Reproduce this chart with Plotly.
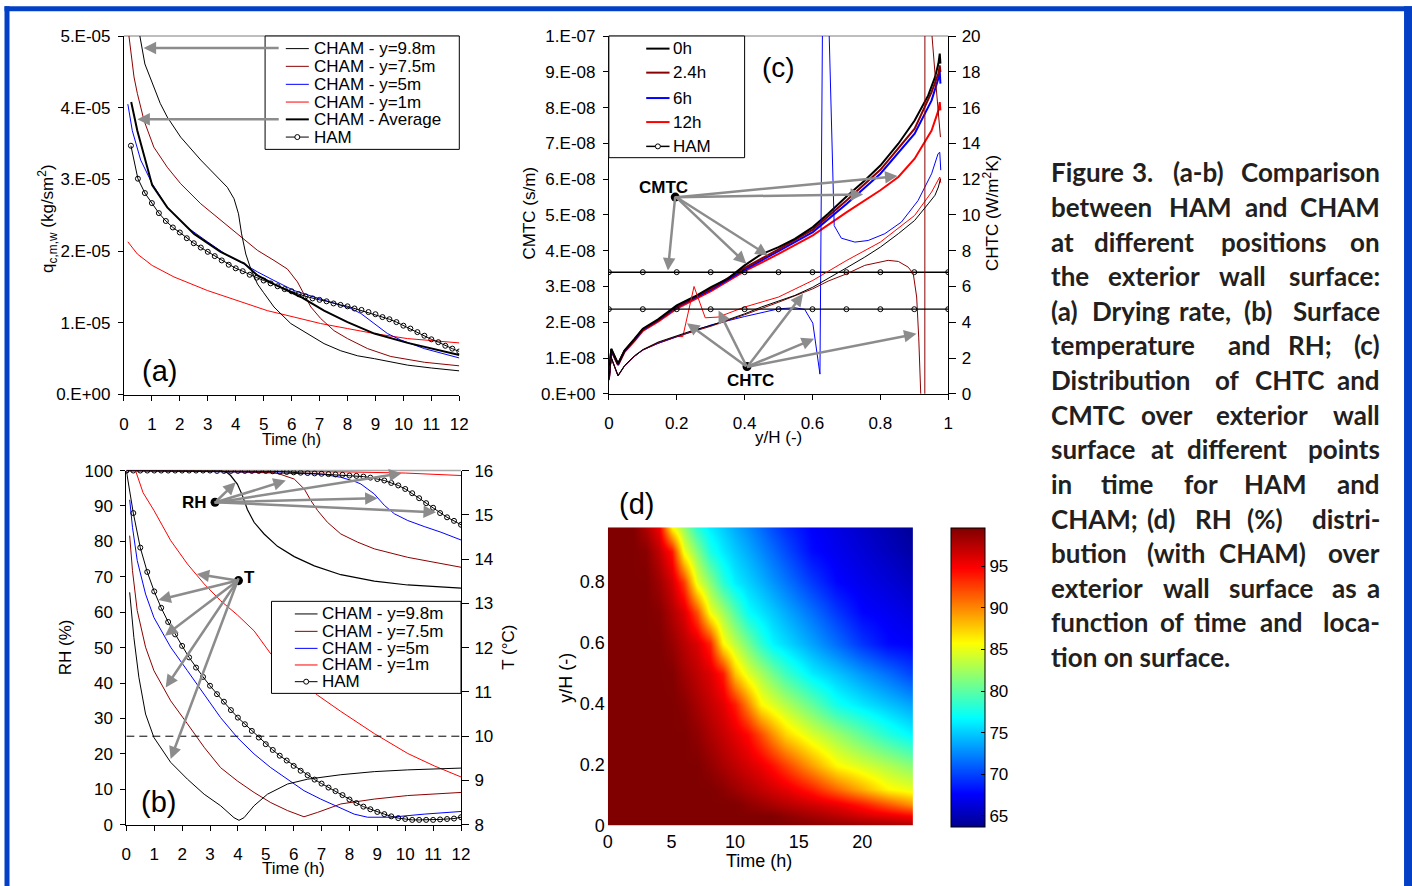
import plotly.graph_objects as go

W, H = 1412, 886
# Positions below are written in reference-picture pixels; PX/PY convert them to page pixels,
# correcting for the small fixed offset/scale measured between the page and the photographed picture.
AX, SX, AY, SY = 4.5, 0.989, 8.7, 0.978
FONT = "Arial, 'Liberation Sans', Helvetica, sans-serif"
CAP_FONT = "Lato, 'Open Sans', sans-serif"
DARKRED = '#8b0000'
GRAY = '#8c8c8c'
FRAME = '#0340c6'


def PX(x):
    return (x - AX) / SX


def PY(y):
    return (y - AY) / SY


def X(px):
    return PX(px) / W


def Y(py):
    return 1 - PY(py) / H


# ---------------- (a) drying rate, values in 1e-5 kg/sm2 ----------------
A_SCALE = 1e-5
a_t_y98 = [0.45, 0.57, 0.75, 1.07, 1.3, 1.55, 2.03, 2.75, 3.46, 3.7, 3.94, 4.1, 4.21, 4.36, 4.54, 4.78, 5.0, 5.37,
           5.97, 6.57, 7.16, 7.76, 8.36, 8.96, 10.15, 11.0, 12.0]
a_q_y98 = [5.7, 5.0, 4.61, 4.29, 4.06, 3.87, 3.59, 3.27, 2.99, 2.89, 2.73, 2.52, 2.24, 1.96, 1.75, 1.54, 1.42, 1.22,
           0.99, 0.85, 0.71, 0.61, 0.54, 0.50, 0.41, 0.37, 0.33]
a_t_y75 = [0.13, 0.18, 0.36, 0.48, 0.72, 1.07, 1.55, 2.03, 2.75, 3.46, 4.18, 4.78, 5.37, 5.85, 6.21, 6.45, 6.69, 7.04,
           7.52, 8.0, 8.72, 9.55, 10.75, 12.0]
a_q_y75 = [5.5, 5.0, 4.43, 4.2, 3.82, 3.45, 3.17, 2.94, 2.66, 2.43, 2.2, 2.01, 1.87, 1.75, 1.57, 1.40, 1.22, 1.06,
           0.89, 0.78, 0.64, 0.53, 0.45, 0.40]
a_t_y5 = [0.14, 0.3, 0.6, 1.01, 1.55, 2.27, 2.99, 3.7, 4.3, 4.78, 5.37, 6.09, 6.81, 7.52, 8.12, 8.48, 8.96, 9.43,
          9.91, 10.75, 12.0]
a_q_y5 = [4.05, 3.68, 3.27, 2.94, 2.61, 2.33, 2.13, 1.94, 1.82, 1.71, 1.59, 1.45, 1.36, 1.27, 1.2, 1.13, 0.99, 0.85,
          0.76, 0.64, 0.51]
a_t_y1 = [0.14, 0.48, 1.01, 1.79, 2.99, 4.18, 5.13, 6.09, 7.04, 8.0, 8.96, 10.15, 12.0]
a_q_y1 = [2.13, 1.96, 1.8, 1.64, 1.45, 1.29, 1.17, 1.08, 0.99, 0.92, 0.85, 0.78, 0.72]
a_t_avg = [0.26, 0.48, 1.01, 1.55, 2.51, 3.46, 4.18, 4.3, 4.78, 5.37, 6.33, 7.16, 8.0, 8.96, 10.15, 12.0]
a_q_avg = [4.08, 3.68, 2.92, 2.61, 2.24, 1.99, 1.85, 1.83, 1.66, 1.54, 1.36, 1.17, 1.01, 0.85, 0.72, 0.55]
a_t_ham = [0.25, 0.5, 0.75, 1.0, 1.25, 1.5, 1.75, 2.0, 2.25, 2.5, 2.75, 3.0, 3.25, 3.5, 3.75, 4.0, 4.25, 4.5, 4.75,
           5.0, 5.25, 5.5, 5.75, 6.0, 6.25, 6.5, 6.75, 7.0, 7.25, 7.5, 7.75, 8.0, 8.25, 8.5, 8.75, 9.0, 9.25, 9.5,
           9.75, 10.0, 10.25, 10.5, 10.75, 11.0, 11.25, 11.5, 11.75, 12.0]
a_q_ham = [3.47, 3.01, 2.81, 2.67, 2.53, 2.42, 2.33, 2.26, 2.18, 2.11, 2.05, 1.99, 1.93, 1.87, 1.81, 1.76, 1.72, 1.67,
           1.63, 1.59, 1.55, 1.51, 1.47, 1.44, 1.40, 1.37, 1.34, 1.32, 1.30, 1.27, 1.25, 1.23, 1.20, 1.18, 1.15, 1.12,
           1.08, 1.05, 1.01, 0.96, 0.92, 0.87, 0.82, 0.77, 0.73, 0.68, 0.64, 0.60]
a_yticks = [0, 1e-5, 2e-5, 3e-5, 4e-5, 5e-5]
a_yticktext = ["0.E+00", "1.E-05", "2.E-05", "3.E-05", "4.E-05", "5.E-05"]

# ---------------- (b) RH (%) and T (C) ----------------
b_t_rh98 = [0, 3.38, 3.6, 3.74, 3.98, 4.16, 4.34, 4.58, 4.94, 5.42, 6.02, 6.74, 7.69, 8.89, 10.09, 12]
b_rh98 = [100, 100, 99.5, 98.6, 96.2, 93, 89, 85.4, 82.1, 78.6, 75.7, 73.1, 70.6, 68.8, 67.7, 66.8]
b_t_rh75 = [0, 3, 5.3, 5.54, 6.02, 6.38, 6.62, 6.86, 7.21, 7.69, 8.29, 8.89, 10.09, 11.28, 12]
b_rh75 = [100, 99.8, 99.4, 98.9, 97.6, 94.8, 91.5, 88.7, 85.4, 82.1, 79.8, 77.9, 75.5, 73.8, 72.7]
b_t_rh5 = [0, 4, 7, 7.69, 8.17, 8.41, 8.89, 9.25, 9.61, 10.09, 10.68, 11.28, 12]
b_rh5 = [100, 99.6, 99.0, 98.1, 97.0, 96.2, 93.4, 90.2, 87.8, 85.9, 84.2, 82.6, 80.4]
b_t_rh1 = [0, 4, 8, 10, 12]
b_rh1 = [100, 99.9, 99.6, 99.3, 98.6]
b_t_T98 = [0.12, 0.27, 0.45, 0.69, 0.99, 1.59, 2.19, 2.79, 3.38, 3.86, 4.04, 4.22, 4.58, 5.06, 5.78, 6.5, 7.69, 8.89,
           10.09, 12]
b_T98 = [13.25, 12.23, 11.33, 10.5, 9.97, 9.41, 9.03, 8.69, 8.43, 8.16, 8.1, 8.16, 8.43, 8.69, 8.92, 9.03, 9.13, 9.2,
         9.24, 9.28]
b_t_T75 = [0.12, 0.22, 0.39, 0.69, 0.99, 1.59, 2.19, 2.79, 3.38, 3.98, 4.58, 5.18, 5.78, 6.37, 6.86, 7.69, 8.89,
           10.09, 12]
b_T75 = [14.53, 13.74, 12.84, 12.01, 11.48, 10.8, 10.28, 9.75, 9.29, 8.99, 8.73, 8.5, 8.32, 8.18, 8.28, 8.47, 8.58,
         8.66, 8.73]
b_t_T5 = [0.12, 0.22, 0.39, 0.69, 0.99, 1.59, 2.19, 2.79, 3.38, 3.98, 4.58, 5.18, 5.78, 6.37, 6.97, 7.6, 8.17, 8.65,
          9.49, 10.68, 12]
b_T5 = [15.34, 14.72, 13.97, 13.21, 12.68, 12.01, 11.48, 10.95, 10.42, 9.97, 9.6, 9.29, 9.03, 8.77, 8.58, 8.4, 8.24,
        8.17, 8.17, 8.24, 8.3]
b_t_T1 = [0.33, 0.6, 0.99, 1.59, 2.19, 2.79, 3.38, 3.98, 4.58, 5.18, 5.9, 6.85, 7.69, 8.89, 10.09, 11.04, 12]
b_T1 = [16.0, 15.5, 15.1, 14.42, 13.89, 13.44, 13.06, 12.74, 12.38, 11.86, 11.45, 10.93, 10.56, 10.06, 9.61, 9.33,
        9.08]
b_t_ham = [0.0, 0.25, 0.5, 0.75, 1.0, 1.25, 1.5, 1.75, 2.0, 2.25, 2.5, 2.75, 3.0, 3.25, 3.5, 3.75, 4.0, 4.25, 4.5,
           4.75, 5.0, 5.25, 5.5, 5.75, 6.0, 6.25, 6.5, 6.75, 7.0, 7.25, 7.5, 7.75, 8.0, 8.25, 8.5, 8.75, 9.0, 9.25,
           9.5, 9.75, 10.0, 10.25, 10.5, 10.75, 11.0, 11.25, 11.5, 11.75, 12.0]
b_rh_ham = [100.0, 100.0, 100.0, 100.0, 100.0, 100.0, 100.0, 100.0, 100.0, 100.0, 100.0, 100.0, 100.0,
            99.9, 99.9, 99.9, 99.9, 99.9, 99.9, 99.9, 99.9,
            99.8, 99.7, 99.6, 99.5, 99.4, 99.3, 99.2, 99.1, 99.0, 98.9, 98.8, 98.6, 98.5, 98.3, 98.0, 97.6, 97.2,
            96.5, 95.8, 94.8, 93.6, 92.2, 90.8, 89.5, 88.0, 86.8, 85.8, 84.7]
b_T_ham = [16.0, 15.04, 14.26, 13.71, 13.27, 12.9, 12.58, 12.3, 12.04, 11.78, 11.55, 11.34, 11.14, 10.95, 10.78,
           10.59, 10.42, 10.27, 10.12, 9.97, 9.82, 9.69, 9.56, 9.45, 9.33, 9.22, 9.12, 9.02, 8.93, 8.84, 8.76, 8.67,
           8.57, 8.49, 8.41, 8.35, 8.29, 8.24, 8.19, 8.15, 8.13, 8.11, 8.11, 8.11, 8.11, 8.12, 8.13, 8.14, 8.17]
b_T_ref = 10.0

# ---------------- (c) CMTC (1e-8 s/m) and CHTC (W/m2K) ----------------
C_SCALE = 1e-8
c_yh_a = [0, 0.007, 0.027, 0.046, 0.076, 0.1, 0.145, 0.2, 0.253, 0.301, 0.351, 0.4, 0.449, 0.5, 0.548, 0.601, 0.646,
          0.701, 0.754, 0.8, 0.853, 0.901, 0.941, 0.961, 0.971, 0.975, 0.977]
c_cmtc_0h = [0.42, 1.26, 0.84, 1.21, 1.54, 1.82, 2.08, 2.47, 2.72, 2.98, 3.22, 3.59, 3.9, 4.1, 4.33, 4.66, 5.03,
             5.52, 5.96, 6.38, 6.99, 7.64, 8.34, 8.85, 9.23, 9.51, 9.23]
c_chtc_0h = [0.84, 2.05, 1.03, 1.58, 2.14, 2.47, 2.89, 3.26, 3.58, 3.82, 4.14, 4.47, 4.85, 5.18, 5.5, 5.96, 6.43,
             7.05, 7.64, 8.2, 8.95, 9.69, 10.62, 11.1, 11.56, 11.9, 12.02]
c_yh_b = [0, 0.007, 0.027, 0.046, 0.076, 0.1, 0.145, 0.2, 0.301, 0.4, 0.5, 0.601, 0.701, 0.8, 0.901, 0.951, 0.971,
          0.975, 0.977]
c_cmtc_24h = [0.42, 1.24, 0.83, 1.2, 1.52, 1.8, 2.06, 2.44, 2.94, 3.52, 4.04, 4.59, 5.41, 6.26, 7.41, 8.43, 8.95,
              9.18, 8.99]
c_cmtc_6h = [0.40, 1.22, 0.82, 1.19, 1.51, 1.79, 2.05, 2.42, 2.91, 3.47, 3.99, 4.52, 5.31, 6.15, 7.27, 8.2, 8.81,
             8.99, 8.67]
c_yh_c = [0, 0.007, 0.027, 0.046, 0.076, 0.1, 0.145, 0.2, 0.301, 0.4, 0.5, 0.601, 0.701, 0.8, 0.853, 0.901, 0.951,
          0.971, 0.975, 0.977]
c_cmtc_12h = [0.38, 1.2, 0.8, 1.17, 1.48, 1.76, 2.02, 2.38, 2.87, 3.43, 3.91, 4.43, 5.08, 5.69, 6.06, 6.57, 7.36,
              7.92, 8.15, 7.92]
c_yh_d = [0, 0.007, 0.027, 0.046, 0.076, 0.1, 0.145, 0.2, 0.301, 0.4, 0.5, 0.601, 0.646, 0.701, 0.754, 0.8, 0.823,
          0.853, 0.882, 0.897, 0.907, 0.913, 0.919, 0.925, 0.9305, 0.9315, 0.951, 0.961, 0.971, 0.977]
c_chtc_24h = [0.84, 2.0, 1.0, 1.55, 2.1, 2.45, 2.85, 3.2, 3.78, 4.42, 5.12, 5.87, 6.3, 6.71, 7.18, 7.36, 7.46, 7.40,
              7.08, 6.71, 5.41, 3.17, 0.0, -40, -40, 40, 20.3, 17.9, 15.66, 14.35]
c_yh_e = [0, 0.007, 0.027, 0.046, 0.076, 0.1, 0.145, 0.2, 0.301, 0.4, 0.5, 0.548, 0.577, 0.601, 0.612, 0.622, 0.630,
          0.640, 0.6465, 0.664, 0.685, 0.725, 0.764, 0.813, 0.862, 0.911, 0.951, 0.97, 0.975, 0.978]
c_chtc_6h = [0.84, 2.0, 1.0, 1.55, 2.1, 2.45, 2.82, 3.18, 3.85, 4.32, 4.75, 4.81, 4.72, 3.95, 2.5, 1.1, 22, 22, 22,
             9.4, 8.7, 8.48, 8.57, 8.95, 9.6, 10.8, 12.3, 13.42, 13.5, 12.5]
c_yh_f = [0, 0.007, 0.027, 0.046, 0.076, 0.1, 0.145, 0.2, 0.218, 0.251, 0.284, 0.322, 0.4, 0.5, 0.601, 0.701, 0.8,
          0.901, 0.951, 0.975, 0.978]
c_chtc_12h = [0.84, 2.0, 1.0, 1.55, 2.1, 2.45, 2.82, 3.2, 3.2, 6.0, 4.25, 4.29, 4.85, 5.41, 6.34, 7.46, 8.48, 9.97,
              11.28, 12.12, 11.8]
c_yh_ham = [0, 0.1, 0.2, 0.3, 0.4, 0.5, 0.6, 0.7, 0.8, 0.9, 1.0]
c_cmtc_ham = [3.4, 3.4, 3.4, 3.4, 3.4, 3.4, 3.4, 3.4, 3.4, 3.4, 3.4]
c_chtc_ham = [4.73, 4.73, 4.73, 4.73, 4.73, 4.73, 4.73, 4.73, 4.73, 4.73, 4.73]
c_yticks = [0, 1e-8, 2e-8, 3e-8, 4e-8, 5e-8, 6e-8, 7e-8, 8e-8, 9e-8, 1e-7]
c_yticktext = ["0.E+00", "1.E-08", "2.E-08", "3.E-08", "4.E-08", "5.E-08", "6.E-08", "7.E-08", "8.E-08", "9.E-08",
               "1.E-07"]

# ---------------- (d) RH (%) over time and height ----------------
d_time = [0, 2, 3, 4, 5, 6, 7, 8, 9, 10, 11, 12, 13, 14, 16, 18, 20, 22, 24]
d_yh = [0, 0.03, 0.07, 0.12, 0.2, 0.3, 0.4, 0.5, 0.6, 0.7, 0.8, 0.9, 0.98]
d_rh = [
    [99.6, 99.6, 99.6, 99.6, 99.6, 99.6, 99.6, 99.6, 99.6, 99.6, 99.6, 99.6, 99.6, 99.6, 99.3, 99.0, 98.7, 98.4, 98.0],
    [99.6, 99.6, 99.6, 99.6, 99.6, 99.6, 99.6, 99.6, 99.6, 99.6, 99.6, 99.6, 99.6, 99.1, 98.3, 97.5, 96.6, 95.8, 95.0],
    [99.6, 99.6, 99.6, 99.6, 99.6, 99.6, 99.6, 99.6, 99.6, 99.6, 99.0, 98.5, 98.0, 97.5, 96.5, 95.5, 93.9, 91.7, 89.5],
    [99.6, 99.6, 99.6, 99.6, 99.6, 99.6, 99.6, 99.6, 99.2, 98.5, 97.8, 97.1, 96.4, 95.7, 93.7, 91.1, 88.6, 86.0, 85.0],
    [99.6, 99.6, 99.6, 99.6, 99.6, 99.6, 99.6, 98.9, 98.0, 97.2, 96.3, 95.4, 94.2, 92.5, 89.1, 85.9, 84.4, 83.0, 81.5],
    [99.6, 99.6, 99.6, 99.6, 99.6, 99.6, 99.0, 97.9, 96.9, 95.8, 94.5, 92.1, 89.6, 87.2, 84.4, 82.3, 80.2, 78.1, 76.5],
    [99.6, 99.6, 99.6, 99.6, 99.6, 99.2, 98.1, 97.0, 95.8, 93.8, 90.0, 86.0, 84.6, 83.1, 80.3, 77.4, 76.0, 74.7, 73.5],
    [99.6, 99.6, 99.6, 99.6, 99.5, 98.3, 97.2, 96.0, 93.8, 87.8, 84.7, 82.7, 80.8, 78.9, 76.2, 74.7, 73.1, 71.6, 70.0],
    [99.6, 99.6, 99.6, 99.6, 98.7, 97.4, 96.1, 93.5, 86.0, 83.4, 80.9, 78.3, 76.5, 75.5, 73.5, 71.5, 69.5, 67.9, 67.5],
    [99.6, 99.6, 99.6, 99.3, 97.7, 96.0, 92.0, 85.4, 82.6, 79.8, 77.0, 75.9, 74.9, 73.8, 71.7, 69.6, 67.8, 67.2, 66.5],
    [99.6, 99.6, 99.6, 98.4, 96.4, 92.6, 85.0, 81.7, 78.3, 76.3, 75.2, 74.1, 73.0, 71.9, 69.7, 67.8, 67.0, 66.3, 65.5],
    [99.6, 99.6, 99.2, 97.1, 94.0, 85.3, 81.5, 77.8, 76.1, 74.9, 73.8, 72.6, 71.5, 70.3, 68.0, 67.1, 66.3, 65.4, 64.5],
    [99.6, 99.6, 97.8, 95.3, 86.0, 82.1, 78.2, 76.2, 75.0, 73.8, 72.7, 71.5, 70.3, 69.2, 67.6, 66.7, 65.8, 64.9, 64.0],
]
d_zmin, d_zmax = 63.7, 99.6
d_cbticks = [65, 70, 75, 80, 85, 90, 95]
JET = [[0, 'rgb(0,0,143)'], [0.11, 'rgb(0,0,255)'], [0.365, 'rgb(0,255,255)'], [0.615, 'rgb(255,255,0)'],
       [0.865, 'rgb(255,0,0)'], [1, 'rgb(128,0,0)']]

# ---------------- caption ----------------
cap_words = [
    ["Figure", "3.", "(a-b)", "Comparison"],
    ["between", "HAM", "and", "CHAM"],
    ["at", "different", "positions", "on"],
    ["the", "exterior", "wall", "surface:"],
    ["(a)", "Drying", "rate,", "(b)", "Surface"],
    ["temperature", "and", "RH;", "(c)"],
    ["Distribution", "of", "CHTC", "and"],
    ["CMTC", "over", "exterior", "wall"],
    ["surface", "at", "different", "points"],
    ["in", "time", "for", "HAM", "and"],
    ["CHAM;", "(d)", "RH", "(%)", "distri-"],
    ["bution", "(with", "CHAM)", "over"],
    ["exterior", "wall", "surface", "as", "a"],
    ["function", "of", "time", "and", "loca-"],
    ["tion on surface."],
]
cap_mid_x = [
    [1141, 1197], [1199, 1265], [1142.3, 1271.7], [1152.3, 1240.7], [1129, 1203.3, 1255.7],
    [1247.3, 1308.3], [1225.7, 1287.3], [1165, 1260], [1160.7, 1235], [1125.7, 1199, 1274],
    [1159, 1211.7, 1263.3], [1174, 1260.7], [1185, 1270, 1342.3], [1170.7, 1218.3, 1280], [],
]

# ======================================================================
fig = go.Figure()


def sc(x, y, color, width, xa, ya, scale=1.0, ham=False):
    yy = [v * scale for v in y]
    kw = dict(x=x, y=yy, xaxis=xa, yaxis=ya, mode='lines', line=dict(color=color, width=width),
              hoverinfo='skip', showlegend=False)
    if ham:
        kw['mode'] = 'lines+markers'
        kw['marker'] = dict(symbol='circle-open', size=5, color='black', line=dict(width=1, color='black'))
    fig.add_trace(go.Scatter(**kw))


# (a)
sc(a_t_y1, a_q_y1, 'red', 1, 'x', 'y', A_SCALE)
sc(a_t_y5, a_q_y5, 'blue', 1, 'x', 'y', A_SCALE)
sc(a_t_y75, a_q_y75, DARKRED, 1, 'x', 'y', A_SCALE)
sc(a_t_y98, a_q_y98, 'black', 1, 'x', 'y', A_SCALE)
sc(a_t_ham, a_q_ham, 'black', 1, 'x', 'y', A_SCALE, ham=True)
sc(a_t_avg, a_q_avg, 'black', 2, 'x', 'y', A_SCALE)
# (b)
sc(b_t_rh1, b_rh1, 'red', 1, 'x2', 'y2')
sc(b_t_rh5, b_rh5, 'blue', 1, 'x2', 'y2')
sc(b_t_rh75, b_rh75, DARKRED, 1, 'x2', 'y2')
sc(b_t_rh98, b_rh98, 'black', 1.2, 'x2', 'y2')
sc(b_t_ham, b_rh_ham, 'black', 1, 'x2', 'y2', ham=True)
sc(b_t_T1, b_T1, 'red', 1, 'x2', 'y3')
sc(b_t_T5, b_T5, 'blue', 1, 'x2', 'y3')
sc(b_t_T75, b_T75, DARKRED, 1, 'x2', 'y3')
sc(b_t_T98, b_T98, 'black', 1, 'x2', 'y3')
sc(b_t_ham, b_T_ham, 'black', 1, 'x2', 'y3', ham=True)
# (c)
sc(c_yh_f, c_chtc_12h, 'red', 1, 'x3', 'y6')
sc(c_yh_e, c_chtc_6h, 'blue', 1, 'x3', 'y6')
sc(c_yh_d, c_chtc_24h, DARKRED, 1, 'x3', 'y6')
sc(c_yh_a, c_chtc_0h, 'black', 1, 'x3', 'y6')
sc(c_yh_ham, c_chtc_ham, 'black', 1.2, 'x3', 'y6', ham=True)
sc(c_yh_c, c_cmtc_12h, 'red', 2, 'x3', 'y5', C_SCALE)
sc(c_yh_b, c_cmtc_6h, 'blue', 2, 'x3', 'y5', C_SCALE)
sc(c_yh_b, c_cmtc_24h, DARKRED, 2, 'x3', 'y5', C_SCALE)
sc(c_yh_a, c_cmtc_0h, 'black', 2, 'x3', 'y5', C_SCALE)
sc(c_yh_ham, c_cmtc_ham, 'black', 1.5, 'x3', 'y5', C_SCALE, ham=True)
# (d)
fig.add_trace(go.Heatmap(
    x=d_time, y=d_yh, z=d_rh, xaxis='x4', yaxis='y8', zsmooth='best', colorscale=JET, zmin=d_zmin, zmax=d_zmax,
    hoverinfo='skip',
    colorbar=dict(x=X(949.3), xanchor='left', xpad=0, y=Y(826), yanchor='bottom', ypad=0,
                  len=(PY(826) - PY(526.7)) / H, lenmode='fraction', thickness=33.5, thicknessmode='pixels',
                  outlinecolor='black', outlinewidth=1, tickvals=d_cbticks, ticks='inside', ticklen=4,
                  tickcolor='black', tickfont=dict(family=FONT, size=17, color='black'))))


def axis(**kw):
    d = dict(showline=True, linecolor='black', linewidth=1, ticks='outside', ticklen=5, tickwidth=1,
             tickcolor='black', showgrid=False, zeroline=False, fixedrange=True,
             tickfont=dict(family=FONT, size=17, color='black'))
    d.update(kw)
    return d


rng13 = list(range(13))
fig.update_layout(
    width=W, height=H, margin=dict(l=0, r=0, t=0, b=0), paper_bgcolor='white', plot_bgcolor='white',
    showlegend=False,
    xaxis=axis(domain=[X(123.3), X(458.3)], range=[0, 12], tickvals=rng13, anchor='y', ticklabelstandoff=9),
    yaxis=axis(domain=[Y(394), Y(35.7)], range=[0, 5e-5], tickvals=a_yticks, ticktext=a_yticktext, anchor='x',
               ticklabelstandoff=4),
    xaxis2=axis(domain=[X(125.7), X(460)], range=[0, 12], tickvals=rng13, anchor='y2', ticklabelstandoff=9),
    yaxis2=axis(domain=[Y(824), Y(470)], range=[0, 100], tickvals=list(range(0, 101, 10)), anchor='x2',
                ticklabelstandoff=4),
    yaxis3=axis(range=[8, 16], tickvals=list(range(8, 17)), overlaying='y2', side='right', anchor='x2',
                ticklen=7, ticklabelstandoff=2),
    yaxis4=axis(range=[8, 16], tickvals=list(range(8, 17)), overlaying='y2', side='right', anchor='x2',
                ticks='inside', ticklen=7, showticklabels=False, showline=False),
    xaxis3=axis(domain=[X(607.7), X(946.7)], range=[0, 1], tickvals=[0, 0.2, 0.4, 0.6, 0.8, 1],
                ticktext=["0", "0.2", "0.4", "0.6", "0.8", "1"], anchor='y5', ticklabelstandoff=9),
    yaxis5=axis(domain=[Y(393.3), Y(35.7)], range=[0, 1e-7], tickvals=c_yticks, ticktext=c_yticktext,
                anchor='x3', ticklabelstandoff=4),
    yaxis6=axis(range=[0, 20], tickvals=list(range(0, 21, 2)), overlaying='y5', side='right', anchor='x3',
                ticklen=7, ticklabelstandoff=2),
    yaxis7=axis(range=[0, 20], tickvals=list(range(0, 21, 2)), overlaying='y5', side='right', anchor='x3',
                ticks='inside', ticklen=7, showticklabels=False, showline=False),
    xaxis4=axis(domain=[X(606.7), X(911.7)], range=[0, 24], tickvals=[0, 5, 10, 15, 20], anchor='y8',
                ticks='', showline=False, ticklabelstandoff=3, tickfont=dict(family=FONT, size=18, color='black')),
    yaxis8=axis(domain=[Y(825), Y(526.7)], range=[0, 0.98], tickvals=[0, 0.2, 0.4, 0.6, 0.8],
                ticktext=["0", "0.2", "0.4", "0.6", "0.8"], anchor='x4', ticks='', showline=False,
                ticklabelstandoff=2, tickfont=dict(family=FONT, size=18, color='black')),
)

shapes = []
ann = []


def pline(x0, y0, x1, y1, color='black', width=1, layer='above', dash=None):
    shapes.append(dict(type='line', xref='paper', yref='paper', x0=X(x0), y0=Y(y0), x1=X(x1), y1=Y(y1),
                       line=dict(color=color, width=width, dash=dash), layer=layer))


def prect(x0, y0, x1, y1, fill='white', lc='black', lw=1):
    shapes.append(dict(type='rect', xref='paper', yref='paper', x0=X(x0), y0=Y(y1), x1=X(x1), y1=Y(y0),
                       fillcolor=fill, line=dict(color=lc, width=lw), layer='above'))


def pfill(x0, y0, x1, y1, color):
    shapes.append(dict(type='rect', xref='paper', yref='paper', x0=X(x0), y0=Y(y1), x1=X(x1), y1=Y(y0),
                       fillcolor=color, line=dict(width=0), layer='above'))


def pcircle(cx, cy, r, fill='black', lc='black', lw=0):
    shapes.append(dict(type='circle', xref='paper', yref='paper', x0=X(cx - r), x1=X(cx + r), y0=Y(cy + r),
                       y1=Y(cy - r), fillcolor=fill, line=dict(color=lc, width=lw), layer='above'))


def txt(s, x, y, size=16, xanchor='center', yanchor='middle', bold=False, angle=0, family=FONT, color='black'):
    if bold:
        s = '<b>' + s + '</b>'
    ann.append(dict(text=s, x=X(x), y=Y(y), xref='paper', yref='paper', xanchor=xanchor, yanchor=yanchor,
                    showarrow=False, font=dict(family=family, size=size, color=color), textangle=angle,
                    borderpad=0))


def arrow(xt, yt, xh, yh):
    ann.append(dict(x=X(xh), y=Y(yh), xref='paper', yref='paper', ax=PX(xt) - PX(xh), ay=PY(yt) - PY(yh),
                    axref='pixel', ayref='pixel', text='', showarrow=True, arrowhead=2, arrowsize=1,
                    arrowwidth=2.5, arrowcolor=GRAY, standoff=0, startstandoff=0))


# gray top borders of plot areas
pline(123.3, 35.7, 458.3, 35.7, '#a8a8a8', 1.5, 'below')
pline(125.7, 470, 460, 470, '#a8a8a8', 1.5, 'below')
pline(607.7, 35.7, 946.7, 35.7, '#a8a8a8', 1.5, 'below')

# dashed reference line in (b) at T = 10
shapes.append(dict(type='line', xref='x2', yref='y3', x0=0, x1=12, y0=b_T_ref, y1=b_T_ref,
                   line=dict(color='black', width=1, dash='8px,5px'), layer='above'))


def legend(box, rows, lx0, lx1, tx, entries, fs=17):
    prect(*box)
    for (label, color, width, ham), ry in zip(entries, rows):
        pline(lx0, ry, lx1, ry, color, width)
        if ham:
            pcircle((lx0 + lx1) / 2, ry, 2.5, fill='white', lc='black', lw=1)
        txt(label, tx, ry, size=fs, xanchor='left')


legend((264.3, 35.7, 458.3, 149), [48.3, 66, 84, 101.7, 119, 136.7], 285, 308, 312,
       [("CHAM - y=9.8m", 'black', 1, False), ("CHAM - y=7.5m", DARKRED, 1, False),
        ("CHAM - y=5m", 'blue', 1, False), ("CHAM - y=1m", 'red', 1, False),
        ("CHAM - Average", 'black', 2, False), ("HAM", 'black', 1, True)])
legend((270.7, 600.7, 460, 692.7), [613.3, 630.7, 647.7, 664.3, 681], 294, 316.7, 320,
       [("CHAM - y=9.8m", 'black', 1, False), ("CHAM - y=7.5m", DARKRED, 1, False),
        ("CHAM - y=5m", 'blue', 1, False), ("CHAM - y=1m", 'red', 1, False), ("HAM", 'black', 1, True)])
legend((607.7, 35.7, 743.3, 157.3), [48.3, 72.3, 97.7, 121.7, 146], 645, 668.3, 671,
       [("0h", 'black', 2, False), ("2.4h", DARKRED, 2, False), ("6h", 'blue', 2, False),
        ("12h", 'red', 2, False), ("HAM", 'black', 1.5, True)])

# arrows (a)
arrow(278, 47.7, 143, 47.7)
arrow(278, 119, 136.7, 119)
# arrows (b)
for hx, hy in [(235, 481.7), (285, 480), (400.7, 472.7), (376.7, 497.7), (435, 511.7)]:
    arrow(214.3, 501.7, hx, hy)
for hx, hy in [(196, 573.3), (157.7, 599.3), (164.3, 635), (165, 686.7), (170, 758.3)]:
    arrow(237.7, 580, hx, hy)
# arrows (c)
for hx, hy in [(896, 175.7), (861.7, 194), (666.7, 270), (745, 263.3), (766.7, 255)]:
    arrow(674, 196.7, hx, hy)
for hx, hy in [(685.7, 322.7), (717.3, 310), (801.7, 293.3), (812.7, 338.3), (915, 333.3)]:
    arrow(745.7, 366, hx, hy)

# dots
pcircle(214.3, 501.7, 4.5)
pcircle(237.7, 580, 4.5)
pcircle(674, 196.7, 4.5)
pcircle(745.7, 366, 4.5)
txt("RH", 194, 502, 17, bold=True)
txt("T", 249, 577, 17, bold=True)
txt("CMTC", 662, 187, 17, bold=True)
txt("CHTC", 749, 380, 17, bold=True)

# panel labels
txt("(a)", 159, 370, 29)
txt("(b)", 158, 801, 29)
txt("(c)", 777, 67, 28)
txt("(d)", 635, 503, 29)

# axis titles
txt("q<sub>c,m,w</sub> (kg/sm<sup>2</sup>)", 47, 218, 17, angle=-90)
txt("Time (h)", 291, 439, 16)
txt("RH (%)", 65, 647, 17, angle=-90)
txt("T (°C)", 508, 647, 17, angle=-90)
txt("Time (h)", 293, 868, 17)
txt("CMTC (s/m)", 528, 213, 17, angle=-90)
txt("CHTC (W/m<sup>2</sup>K)", 990, 213, 17, angle=-90)
txt("y/H (-)", 777, 437, 17)
txt("Time (h)", 758, 860, 18)
txt("y/H (-)", 565, 677, 18, angle=-90)

# caption (justified by word placement)
CAP_L, CAP_R = 1048, 1379
for i, (words, mids) in enumerate(zip(cap_words, cap_mid_x)):
    ly = 172 + 34.6 * i
    fs = 26
    txt(words[0], CAP_L, ly, fs, xanchor='left', bold=True, family=CAP_FONT, color='#231f20')
    if len(words) == 1:
        continue
    for w, mx in zip(words[1:-1], mids):
        txt(w, mx, ly, fs, xanchor='center', bold=True, family=CAP_FONT, color='#231f20')
    txt(words[-1], CAP_R, ly, fs, xanchor='right', bold=True, family=CAP_FONT, color='#231f20')

# blue frame (left, top, right)
pfill(4, 6, 9, 900, FRAME)
pfill(4, 6, 1420, 11, FRAME)
pfill(1402, 6, 1420, 900, FRAME)

fig.update_layout(shapes=shapes, annotations=ann)
fig.write_html("out.html", config={'displayModeBar': False},
               post_script="document.body.style.margin='0';document.body.style.padding='0';"
                           "document.documentElement.style.overflow='hidden';"
                           "document.body.style.overflow='hidden';")
